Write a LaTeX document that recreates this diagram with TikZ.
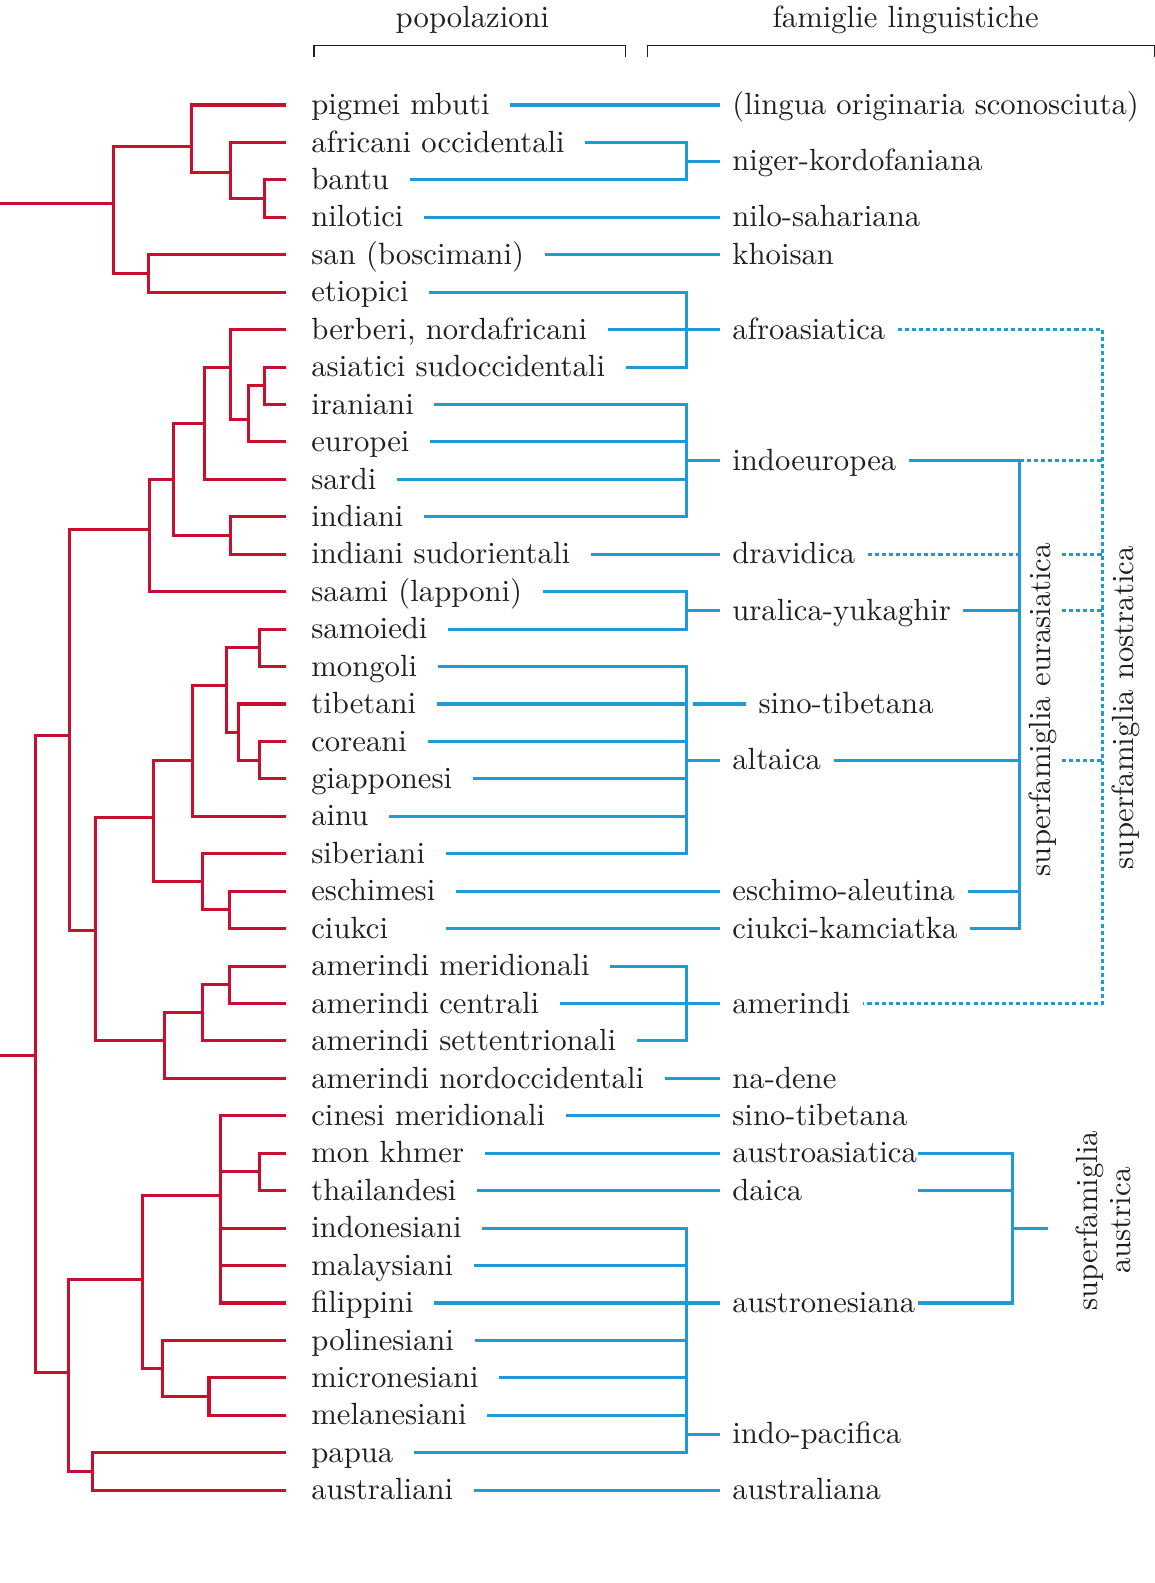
\documentclass[tikz,border=0pt]{standalone}
\usepackage{fontspec}
\setmainfont{lmroman10-regular}[Extension=.otf]
\usepackage{tikz}
\definecolor{rosso}{RGB}{200,16,46}
\definecolor{azzurro}{RGB}{30,154,214}
\definecolor{inchiostro}{RGB}{35,31,32}
\def\ramo(#1:#2:#3)(#4:#5){\draw[albero] (#4,#2) -| (#1,#3) -- (#5,#3);}
\tikzset{
	albero/.style={line width=1.5pt, color=rosso},
	lingua/.style={line width=1.5pt, color=azzurro},
	ponte/.style={line width=1.5pt, color=azzurro, dash pattern=on 2pt off 1.5pt},
	abbassa/.style={execute at begin node={\setbox0=\hbox\bgroup}, execute at end node={\egroup\lower1.5pt\box0}},
	pop/.style={anchor=mid west, inner xsep=10pt, inner ysep=0pt, text=inchiostro, abbassa},
	fam/.style={anchor=mid west, inner xsep=6pt, inner ysep=0pt, text=inchiostro, abbassa},
	testata/.style={anchor=mid, inner sep=0pt, text=inchiostro},
	superf/.style={rotate=90, inner sep=0pt, text=inchiostro, align=center},
	graffa/.style={line width=0.5pt, color=inchiostro}
}

\begin{document}
\fontsize{15.2}{16.5}\selectfont
\begin{tikzpicture}[x=0.5pt, y=-18.54pt]
			%%%%% START %%%%%
			\useasboundingbox (0,-1.805) rectangle (1144,40.48);
			
			\node[testata] (popolazioni) at (468,-1.26) {popolazioni};
			\node[testata] (famiglie) at (897,-1.26) {famiglie linguistiche};
			\draw[graffa] (311,-0.27) |- (620,-0.59) -- (620,-0.27);
			\draw[graffa] (641,-0.27) |- (1143,-0.59) -- (1143,-0.27);
			
			% popolazioni
			\node[pop] (pigmei) at (288,1) {pigmei mbuti};
			\node[pop] (afrocc) at (288,2) {africani occidentali};
			\node[pop] (bantu) at (288,3) {bantu};
			\node[pop] (nilotici) at (288,4) {nilotici};
			\node[pop] (san) at (288,5) {san (boscimani)};
			\node[pop] (etiopici) at (288,6) {etiopici};
			\node[pop] (berberi) at (288,7) {berberi, nordafricani};
			\node[pop] (asiatici) at (288,8) {asiatici sudoccidentali};
			\node[pop] (iraniani) at (288,9) {iraniani};
			\node[pop] (europei) at (288,10) {europei};
			\node[pop] (sardi) at (288,11) {sardi};
			\node[pop] (indiani) at (288,12) {indiani};
			\node[pop] (indsud) at (288,13) {indiani sudorientali};
			\node[pop] (saami) at (288,14) {saami (lapponi)};
			\node[pop] (samoiedi) at (288,15) {samoiedi};
			\node[pop] (mongoli) at (288,16) {mongoli};
			\node[pop] (tibetani) at (288,17) {tibetani};
			\node[pop] (coreani) at (288,18) {coreani};
			\node[pop] (giapponesi) at (288,19) {giapponesi};
			\node[pop] (ainu) at (288,20) {ainu};
			\node[pop] (siberiani) at (288,21) {siberiani};
			\node[pop] (eschimesi) at (288,22) {eschimesi};
			\node[pop] (ciukci) at (288,23) {ciukci};
			\node[pop] (amermer) at (288,24) {amerindi meridionali};
			\node[pop] (amercen) at (288,25) {amerindi centrali};
			\node[pop] (amerset) at (288,26) {amerindi settentrionali};
			\node[pop] (amernord) at (288,27) {amerindi nordoccidentali};
			\node[pop] (cinesi) at (288,28) {cinesi meridionali};
			\node[pop] (monkhmer) at (288,29) {mon khmer};
			\node[pop] (thai) at (288,30) {thailandesi};
			\node[pop] (indonesiani) at (288,31) {indonesiani};
			\node[pop] (malaysiani) at (288,32) {malaysiani};
			\node[pop] (filippini) at (288,33) {filippini};
			\node[pop] (polinesiani) at (288,34) {polinesiani};
			\node[pop] (micronesiani) at (288,35) {micronesiani};
			\node[pop] (melanesiani) at (288,36) {melanesiani};
			\node[pop] (papua) at (288,37) {papua};
			\node[pop] (australiani) at (288,38) {australiani};
			
			% famiglie
			\node[fam] (sconosciuta) at (713,1) {(lingua originaria sconosciuta)};
			\node[fam] (nigerkord) at (713,2.5) {niger-kordofaniana};
			\node[fam] (nilosah) at (713,4) {nilo-sahariana};
			\node[fam] (khoisan) at (713,5) {khoisan};
			\node[fam] (afroas) at (713,7) {afroasiatica};
			\node[fam] (indoeur) at (713,10.5) {indoeuropea};
			\node[fam] (dravidica) at (713,13) {dravidica};
			\node[fam] (uralica) at (713,14.5) {uralica-yukaghir};
			\node[fam] (sinotib) at (739,17) {sino-tibetana};
			\node[fam] (altaica) at (713,18.5) {altaica};
			\node[fam] (eschimoal) at (713,22) {eschimo-aleutina};
			\node[fam] (ciukcik) at (713,23) {ciukci-kamciatka};
			\node[fam] (amerindi) at (713,25) {amerindi};
			\node[fam] (nadene) at (713,27) {na-dene};
			\node[fam] (sinotibb) at (713,28) {sino-tibetana};
			\node[fam] (austroas) at (713,29) {austroasiatica};
			\node[fam] (daica) at (713,30) {daica};
			\node[fam] (austron) at (713,33) {austronesiana};
			\node[fam] (indopac) at (713,36.5) {indo-pacifica};
			\node[fam] (australiana) at (713,38) {australiana};
			
			% albero
			\ramo(262:3:4)(283:283);
			\ramo(228:2:3.5)(283:262);
			\ramo(190:1:2.8)(283:228);
			\ramo(147:5:6)(283:283);
			\ramo(112:2.1:5.5)(190:147);
			\draw[albero] (0,3.63) -- (112,3.63);
			
			\ramo(262:8:9)(283:283);
			\ramo(246:8.5:10)(262:283);
			\ramo(228:7:9.4)(283:246);
			\ramo(203:8:11)(228:283);
			\ramo(228:12:13)(283:283);
			\ramo(172:9.5:12.5)(203:228);
			\ramo(148:11:14)(172:283);
			
			\ramo(257:15:16)(283:283);
			\ramo(257:18:19)(283:283);
			\ramo(236:17:18.5)(283:257);
			\ramo(224:15.5:17.76)(257:236);
			\ramo(191:16.5:20)(224:283);
			\ramo(227:22:23)(283:283);
			\ramo(201:21:22.5)(283:227);
			\ramo(152:18.5:21.73)(191:201);
			\ramo(227:24:25)(283:283);
			\ramo(201:24.5:26)(227:283);
			\ramo(163:25.24:27)(201:283);
			\ramo(95:20.03:26)(152:163);
			\ramo(69:12.33:23.06)(148:95);
			
			\ramo(257:29:30)(283:283);
			\draw[albero] (283,28) -| (218,33) -- (283,33);
			\draw[albero] (218,29.5) -- (257,29.5);
			\draw[albero] (218,31) -- (283,31);
			\draw[albero] (218,32) -- (283,32);
			\ramo(207:35:36)(283:283);
			\ramo(161:34:35.5)(283:207);
			\ramo(141:30.12:34.75)(218:161);
			\ramo(92:37:38)(283:283);
			\ramo(68:32.38:37.5)(141:92);
			\ramo(35:17.85:34.85)(69:68);
			\draw[albero] (0,26.4) -- (35,26.4);
			
			% collegamenti
			\coordinate (j1) at (680,2.5);
			\coordinate (j2) at (680,7);
			\coordinate (j3) at (680,10.5);
			\coordinate (j4) at (680,14.5);
			\coordinate (j5) at (680,18.5);
			\coordinate (j6) at (686,17);
			\coordinate (j7) at (680,25);
			\coordinate (j8) at (680,36.5);
			
			\draw[lingua] (pigmei.mid east) -- (sconosciuta.mid west);
			\draw[lingua] (afrocc.mid east) -| (j1) |- (bantu.mid east);
			\draw[lingua] (j1) -- (nigerkord.mid west);
			\draw[lingua] (nilotici.mid east) -- (nilosah.mid west);
			\draw[lingua] (san.mid east) -- (khoisan.mid west);
			
			\draw[lingua] (etiopici.mid east) -| (j2) |- (asiatici.mid east);
			\draw[lingua] (berberi.mid east) -- (afroas.mid west);
			
			\draw[lingua] (iraniani.mid east) -| (j3) |- (indiani.mid east);
			\draw[lingua] (europei.mid east) -- (europei.mid east -| j3);
			\draw[lingua] (sardi.mid east) -- (sardi.mid east -| j3);
			\draw[lingua] (j3) -- (indoeur.mid west);
			\draw[lingua] (indsud.mid east) -- (dravidica.mid west);
			
			\draw[lingua] (saami.mid east) -| (j4) |- (samoiedi.mid east);
			\draw[lingua] (j4) -- (uralica.mid west);
			
			\draw[lingua] (mongoli.mid east) -| (j5) |- (siberiani.mid east);
			\draw[lingua] (tibetani.mid east) -- (tibetani.mid east -| j5);
			\draw[lingua] (coreani.mid east) -- (coreani.mid east -| j5);
			\draw[lingua] (giapponesi.mid east) -- (giapponesi.mid east -| j5);
			\draw[lingua] (ainu.mid east) -- (ainu.mid east -| j5);
			\draw[lingua] (j6) -- (sinotib.mid west);
			\draw[lingua] (j5) -- (altaica.mid west);
			
			\draw[lingua] (eschimesi.mid east) -- (eschimoal.mid west);
			\draw[lingua] ([xshift=18.5pt]ciukci.mid east) -- (ciukcik.mid west);
			
			\draw[lingua] (amermer.mid east) -| (j7) |- (amerset.mid east);
			\draw[lingua] (amercen.mid east) -- (amerindi.mid west);
			\draw[lingua] (amernord.mid east) -- (nadene.mid west);
			\draw[lingua] (cinesi.mid east) -- (sinotibb.mid west);
			\draw[lingua] (monkhmer.mid east) -- (austroas.mid west);
			\draw[lingua] (thai.mid east) -- (daica.mid west);
			
			\draw[lingua] (indonesiani.mid east) -| (j8) |- (papua.mid east);
			\draw[lingua] (malaysiani.mid east) -- (malaysiani.mid east -| j8);
			\draw[lingua] (filippini.mid east) -- (austron.mid west);
			\draw[lingua] (polinesiani.mid east) -- (polinesiani.mid east -| j8);
			\draw[lingua] (micronesiani.mid east) -- (micronesiani.mid east -| j8);
			\draw[lingua] (melanesiani.mid east) -- (melanesiani.mid east -| j8);
			\draw[lingua] (j8) -- (indopac.mid west);
			\draw[lingua] (australiani.mid east) -- (australiana.mid west);
			
			% superfamiglie
			\coordinate (eurb) at (1010,18.5);
			\coordinate (nos) at (1092,17);
			\coordinate (nosl) at (1052,17);
			\draw[lingua] (indoeur.mid east) -| (eurb) |- (ciukcik.mid east);
			\draw[lingua] (uralica.mid east) -- (uralica.mid east -| eurb);
			\draw[lingua] (altaica.mid east) -- (eurb);
			\draw[lingua] (eschimoal.mid east) -- (eschimoal.mid east -| eurb);
			
			\draw[ponte] (afroas.mid east) -| (nos) |- (amerindi.mid east);
			\draw[ponte] (indoeur.mid east -| eurb) -- (indoeur.mid east -| nos);
			\draw[ponte] (dravidica.mid east) -- (dravidica.mid east -| eurb);
			\draw[ponte] (dravidica.mid east -| nosl) -- (dravidica.mid east -| nos);
			\draw[ponte] (uralica.mid east -| nosl) -- (uralica.mid east -| nos);
			\draw[ponte] (altaica.mid east -| nosl) -- (altaica.mid east -| nos);
			
			\node[superf, anchor=mid] (eurasiatica) at (1034,17.15) {superfamiglia eurasiatica};
			\node[superf, anchor=mid] (nostratica) at (1116,17.1) {superfamiglia nostratica};
			
			\coordinate (ausx) at ([xshift=-5pt]austron.mid east);
			\coordinate (aus) at (1003,31);
			\coordinate (austick) at (1038,31);
			\draw[lingua] (austroas.mid west -| ausx) -| (aus) |- (austron.mid west -| ausx);
			\draw[lingua] (daica.mid west -| ausx) -- (daica.mid west -| aus);
			\draw[lingua] (aus) -- (austick);
			\node[superf] (austrica) at (1093,30.8) {superfamiglia\\austrica};
			
			%%%%% END %%%%%
\end{tikzpicture}
\end{document}
